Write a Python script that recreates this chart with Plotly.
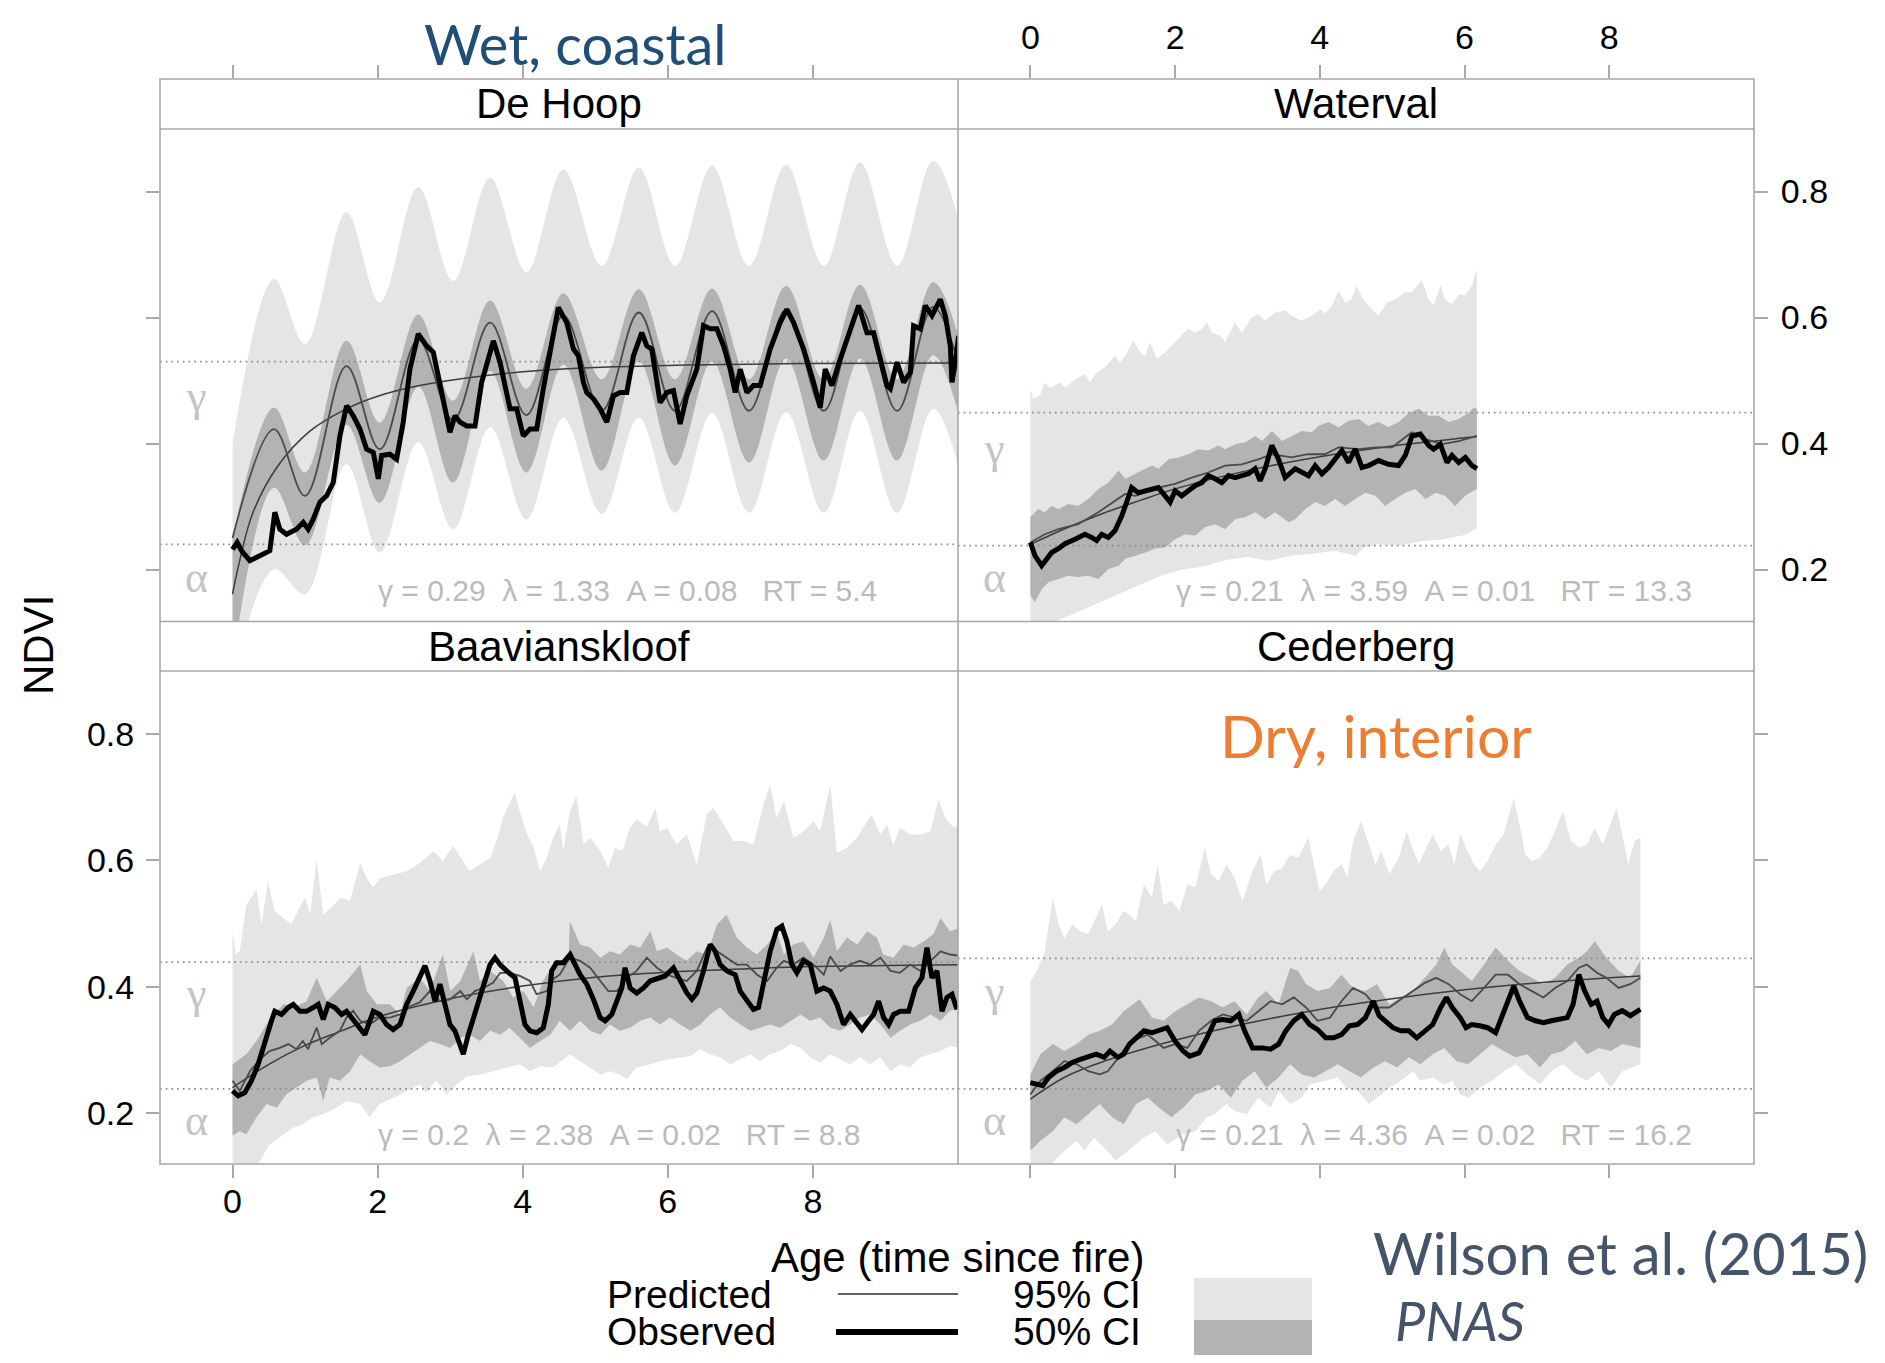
import plotly.graph_objects as go

# ---------------- data ----------------
PANELS = ["De Hoop", "Waterval", "Baavianskloof", "Cederberg"]
X_TICKS = [0, 2, 4, 6, 8]
Y_TICKS = [0.2, 0.4, 0.6, 0.8]
STATS = ["γ = 0.29  λ = 1.33  A = 0.08   RT = 5.4",
         "γ = 0.21  λ = 3.59  A = 0.01   RT = 13.3",
         "γ = 0.2  λ = 2.38  A = 0.02   RT = 8.8",
         "γ = 0.21  λ = 4.36  A = 0.02   RT = 16.2"]
ALPHA_LEVEL = [0.240, 0.238, 0.238, 0.238]
GAMMA_LEVEL = [0.530, 0.449, 0.439, 0.445]
GAMMA_LABEL_Y = [0.474, 0.392, 0.390, 0.392]
ALPHA_LABEL_Y = [0.188, 0.188, 0.188, 0.188]

# De Hoop (seasonal, smooth bands) - peaks / troughs
DH_T = [0.0, 0.57, 1.0, 1.57, 2.03, 2.56, 3.04, 3.55, 4.05, 4.56, 5.09, 5.6, 6.1, 6.61, 7.12, 7.63, 8.15, 8.65, 9.16, 9.66, 10.17]
DH_UP95 = [0.40, 0.661, 0.558, 0.767, 0.624, 0.807, 0.658, 0.822, 0.672, 0.835, 0.682, 0.838, 0.682, 0.841, 0.682, 0.843, 0.682, 0.846, 0.682, 0.849, 0.682]
DH_LO95 = [0.02, 0.20, 0.161, 0.367, 0.227, 0.402, 0.264, 0.426, 0.28, 0.441, 0.288, 0.441, 0.29, 0.449, 0.29, 0.45, 0.29, 0.452, 0.29, 0.455, 0.29]
DH_UP50 = [0.25, 0.457, 0.354, 0.563, 0.433, 0.605, 0.468, 0.627, 0.487, 0.638, 0.502, 0.645, 0.502, 0.646, 0.502, 0.65, 0.502, 0.652, 0.502, 0.656, 0.502]
DH_LO50 = [0.05, 0.33, 0.238, 0.43, 0.306, 0.49, 0.338, 0.515, 0.354, 0.525, 0.357, 0.53, 0.365, 0.53, 0.37, 0.535, 0.373, 0.535, 0.373, 0.54, 0.373]
DH_PRED = [0.25, 0.423, 0.317, 0.523, 0.391, 0.565, 0.437, 0.592, 0.445, 0.603, 0.452, 0.608, 0.452, 0.61, 0.452, 0.612, 0.452, 0.615, 0.452, 0.617, 0.452]
DH_SMOOTH = [(0, 0.161), (0.1, 0.215), (0.28, 0.29), (0.61, 0.362), (1.07, 0.42), (1.57, 0.455), (2.0, 0.475), (2.58, 0.492), (3.5, 0.508), (4.5, 0.518), (6, 0.524), (8, 0.527), (10.2, 0.528)]
DH_OBS = [(0.0, 0.232), (0.064, 0.243), (0.123, 0.230), (0.238, 0.214), (0.376, 0.222), (0.514, 0.230), (0.583, 0.291), (0.652, 0.264), (0.744, 0.256), (0.882, 0.264), (0.974, 0.275), (1.043, 0.264), (1.112, 0.28), (1.204, 0.307), (1.296, 0.317), (1.388, 0.338), (1.48, 0.412), (1.572, 0.46), (1.664, 0.444), (1.756, 0.423), (1.848, 0.391), (1.94, 0.386), (2.009, 0.344), (2.055, 0.381), (2.169, 0.383), (2.261, 0.375), (2.353, 0.434), (2.445, 0.518), (2.56, 0.574), (2.675, 0.555), (2.767, 0.545), (2.859, 0.497), (2.997, 0.418), (3.066, 0.444), (3.135, 0.434), (3.227, 0.428), (3.342, 0.428), (3.434, 0.497), (3.526, 0.539), (3.595, 0.563), (3.687, 0.529), (3.825, 0.455), (3.917, 0.455), (4.008, 0.412), (4.1, 0.423), (4.192, 0.423), (4.284, 0.487), (4.399, 0.561), (4.491, 0.616), (4.607, 0.592), (4.699, 0.55), (4.768, 0.539), (4.837, 0.497), (4.883, 0.481), (4.975, 0.471), (5.067, 0.455), (5.159, 0.434), (5.251, 0.476), (5.343, 0.481), (5.434, 0.481), (5.526, 0.539), (5.641, 0.576), (5.71, 0.555), (5.779, 0.55), (5.894, 0.465), (5.986, 0.481), (6.078, 0.484), (6.17, 0.431), (6.262, 0.476), (6.4, 0.518), (6.492, 0.587), (6.584, 0.582), (6.676, 0.582), (6.768, 0.555), (6.86, 0.518), (6.929, 0.481), (6.998, 0.518), (7.09, 0.481), (7.181, 0.492), (7.273, 0.492), (7.411, 0.55), (7.549, 0.592), (7.641, 0.613), (7.733, 0.592), (7.871, 0.55), (8.009, 0.497), (8.101, 0.457), (8.17, 0.518), (8.262, 0.492), (8.377, 0.534), (8.515, 0.582), (8.63, 0.619), (8.745, 0.576), (8.837, 0.576), (8.929, 0.534), (9.021, 0.492), (9.067, 0.487), (9.159, 0.529), (9.251, 0.497), (9.343, 0.513), (9.388, 0.587), (9.48, 0.582), (9.549, 0.619), (9.641, 0.603), (9.756, 0.629), (9.825, 0.603), (9.894, 0.555), (9.917, 0.497), (9.963, 0.529), (10.009, 0.571)]

# Waterval
W_UP95 = [(0.0, 0.486), (0.04, 0.471), (0.13, 0.476), (0.20, 0.497), (0.27, 0.489), (0.34, 0.492), (0.41, 0.497), (0.48, 0.489), (0.57, 0.497), (0.66, 0.505), (0.76, 0.510), (0.82, 0.497), (0.92, 0.513), (1.03, 0.521), (1.17, 0.539), (1.24, 0.529), (1.31, 0.539), (1.42, 0.563), (1.52, 0.545), (1.59, 0.539), (1.65, 0.561), (1.75, 0.534), (1.86, 0.545), (2.00, 0.561), (2.09, 0.571), (2.18, 0.582), (2.28, 0.576), (2.37, 0.582), (2.44, 0.592), (2.51, 0.576), (2.62, 0.571), (2.69, 0.561), (2.83, 0.592), (2.92, 0.576), (3.06, 0.600), (3.15, 0.606), (3.24, 0.595), (3.38, 0.608), (3.52, 0.611), (3.61, 0.603), (3.75, 0.595), (3.89, 0.603), (4.01, 0.613), (4.07, 0.606), (4.17, 0.619), (4.26, 0.643), (4.35, 0.624), (4.44, 0.629), (4.51, 0.651), (4.58, 0.632), (4.67, 0.619), (4.81, 0.603), (4.93, 0.624), (5.04, 0.629), (5.18, 0.640), (5.27, 0.640), (5.41, 0.659), (5.50, 0.629), (5.57, 0.619), (5.67, 0.651), (5.73, 0.629), (5.83, 0.621), (5.92, 0.637), (6.01, 0.635), (6.10, 0.651), (6.17, 0.677)]
W_LO95 = [(0.0, 0.05), (0.3, 0.115), (0.6, 0.13), (0.9, 0.145), (1.2, 0.16), (1.5, 0.175), (1.8, 0.19), (2.1, 0.20), (2.4, 0.205), (2.7, 0.215), (3.0, 0.22), (3.3, 0.214), (3.6, 0.222), (3.9, 0.225), (4.2, 0.23), (4.5, 0.222), (4.6, 0.234), (4.8, 0.24), (5.1, 0.238), (5.4, 0.245), (5.7, 0.248), (6.0, 0.255), (6.17, 0.265)]
W_UP50 = [(0.0, 0.283), (0.11, 0.296), (0.20, 0.291), (0.29, 0.301), (0.39, 0.296), (0.52, 0.304), (0.66, 0.301), (0.80, 0.312), (0.94, 0.328), (1.08, 0.338), (1.22, 0.357), (1.31, 0.344), (1.45, 0.352), (1.54, 0.357), (1.68, 0.365), (1.77, 0.360), (1.91, 0.375), (2.05, 0.378), (2.18, 0.383), (2.32, 0.391), (2.46, 0.389), (2.60, 0.397), (2.69, 0.391), (2.83, 0.399), (2.97, 0.402), (3.11, 0.412), (3.20, 0.404), (3.34, 0.420), (3.48, 0.404), (3.61, 0.412), (3.75, 0.420), (3.89, 0.418), (3.98, 0.428), (4.12, 0.434), (4.26, 0.426), (4.40, 0.436), (4.54, 0.439), (4.67, 0.428), (4.81, 0.434), (4.95, 0.426), (5.09, 0.434), (5.23, 0.449), (5.37, 0.455), (5.50, 0.444), (5.64, 0.444), (5.78, 0.434), (5.92, 0.439), (6.06, 0.449), (6.13, 0.457), (6.17, 0.455)]
W_LO50 = [(0.0, 0.159), (0.06, 0.148), (0.16, 0.169), (0.25, 0.180), (0.39, 0.185), (0.52, 0.190), (0.66, 0.188), (0.80, 0.190), (0.94, 0.185), (1.08, 0.201), (1.22, 0.206), (1.31, 0.217), (1.45, 0.222), (1.59, 0.227), (1.72, 0.233), (1.86, 0.235), (2.00, 0.248), (2.14, 0.256), (2.28, 0.254), (2.41, 0.267), (2.55, 0.272), (2.69, 0.264), (2.83, 0.280), (2.97, 0.283), (3.11, 0.291), (3.24, 0.280), (3.38, 0.291), (3.57, 0.275), (3.66, 0.280), (3.80, 0.296), (3.94, 0.307), (4.07, 0.301), (4.21, 0.312), (4.35, 0.301), (4.49, 0.312), (4.63, 0.322), (4.77, 0.317), (4.90, 0.301), (5.04, 0.312), (5.18, 0.322), (5.32, 0.328), (5.46, 0.312), (5.60, 0.322), (5.73, 0.317), (5.87, 0.301), (6.01, 0.317), (6.17, 0.328)]
W_PRED = [(0.0, 0.243), (0.20, 0.256), (0.39, 0.264), (0.66, 0.272), (0.94, 0.291), (1.31, 0.320), (1.45, 0.317), (1.77, 0.330), (2.00, 0.336), (2.23, 0.346), (2.46, 0.354), (2.69, 0.365), (2.92, 0.367), (3.15, 0.375), (3.34, 0.383), (3.61, 0.378), (3.84, 0.383), (4.07, 0.383), (4.26, 0.394), (4.54, 0.391), (4.77, 0.394), (5.00, 0.394), (5.27, 0.418), (5.46, 0.407), (5.69, 0.399), (5.92, 0.404), (6.17, 0.412)]
W_SMOOTH = [(0, 0.240), (0.5, 0.266), (1, 0.289), (1.5, 0.309), (2, 0.328), (3, 0.357), (4, 0.379), (5, 0.396), (6, 0.409), (6.17, 0.411)]
W_OBS = [(0.0, 0.243), (0.064, 0.222), (0.156, 0.206), (0.225, 0.217), (0.294, 0.227), (0.386, 0.233), (0.478, 0.241), (0.617, 0.248), (0.755, 0.256), (0.847, 0.251), (0.916, 0.246), (0.986, 0.256), (1.078, 0.251), (1.17, 0.262), (1.262, 0.285), (1.331, 0.307), (1.40, 0.330), (1.493, 0.322), (1.585, 0.325), (1.677, 0.328), (1.769, 0.330), (1.862, 0.317), (1.931, 0.307), (2.0, 0.325), (2.092, 0.317), (2.184, 0.325), (2.277, 0.333), (2.369, 0.338), (2.461, 0.349), (2.553, 0.344), (2.645, 0.338), (2.738, 0.349), (2.83, 0.346), (2.922, 0.349), (3.014, 0.352), (3.106, 0.360), (3.175, 0.341), (3.245, 0.360), (3.337, 0.397), (3.429, 0.375), (3.521, 0.346), (3.66, 0.360), (3.752, 0.354), (3.844, 0.349), (3.936, 0.365), (4.029, 0.352), (4.121, 0.362), (4.213, 0.375), (4.305, 0.389), (4.397, 0.370), (4.489, 0.391), (4.582, 0.362), (4.674, 0.365), (4.812, 0.373), (4.95, 0.367), (5.089, 0.365), (5.181, 0.381), (5.273, 0.412), (5.389, 0.415), (5.504, 0.397), (5.573, 0.391), (5.665, 0.399), (5.757, 0.370), (5.826, 0.381), (5.919, 0.370), (6.011, 0.378), (6.103, 0.365), (6.172, 0.360)]

# Baavianskloof
B_UP95 = [(0.0, 0.488), (0.045, 0.451), (0.10, 0.456), (0.19, 0.530), (0.33, 0.554), (0.40, 0.499), (0.49, 0.567), (0.58, 0.520), (0.70, 0.509), (0.81, 0.499), (0.90, 0.520), (1.0, 0.541), (1.07, 0.514), (1.16, 0.602), (1.25, 0.514), (1.39, 0.530), (1.50, 0.541), (1.62, 0.536), (1.76, 0.596), (1.85, 0.572), (1.94, 0.557), (2.03, 0.572), (2.22, 0.578), (2.40, 0.583), (2.58, 0.596), (2.77, 0.615), (2.90, 0.599), (3.04, 0.623), (3.18, 0.599), (3.27, 0.583), (3.41, 0.594), (3.55, 0.604), (3.64, 0.631), (3.73, 0.668), (3.82, 0.691), (3.89, 0.707), (3.96, 0.678), (4.05, 0.644), (4.15, 0.620), (4.24, 0.583), (4.33, 0.604), (4.42, 0.636), (4.51, 0.657), (4.56, 0.615), (4.65, 0.678), (4.74, 0.702), (4.84, 0.625), (4.93, 0.636), (5.07, 0.615), (5.18, 0.588), (5.27, 0.620), (5.37, 0.615), (5.48, 0.652), (5.57, 0.665), (5.71, 0.654), (5.83, 0.683), (5.89, 0.646), (5.99, 0.652), (6.12, 0.625), (6.26, 0.641), (6.40, 0.594), (6.54, 0.675), (6.63, 0.683), (6.77, 0.657), (6.91, 0.631), (7.04, 0.631), (7.18, 0.625), (7.32, 0.689), (7.41, 0.720), (7.50, 0.667), (7.60, 0.694), (7.73, 0.636), (7.87, 0.646), (8.01, 0.662), (8.10, 0.646), (8.24, 0.720), (8.33, 0.612), (8.47, 0.620), (8.61, 0.636), (8.72, 0.657), (8.81, 0.673), (8.93, 0.641), (9.02, 0.657), (9.11, 0.625), (9.20, 0.652), (9.34, 0.641), (9.48, 0.641), (9.62, 0.646), (9.73, 0.697), (9.83, 0.667), (9.94, 0.652), (10.03, 0.657)]
B_LO95 = [(0.0, 0.05), (0.38, 0.124), (0.51, 0.150), (0.65, 0.161), (0.84, 0.177), (0.97, 0.182), (1.11, 0.193), (1.25, 0.198), (1.43, 0.208), (1.57, 0.219), (1.76, 0.214), (1.89, 0.193), (2.03, 0.214), (2.22, 0.224), (2.40, 0.235), (2.58, 0.245), (2.67, 0.232), (2.81, 0.251), (2.95, 0.229), (3.09, 0.245), (3.23, 0.258), (3.41, 0.261), (3.59, 0.266), (3.78, 0.272), (3.96, 0.277), (4.10, 0.266), (4.24, 0.274), (4.42, 0.272), (4.65, 0.293), (4.79, 0.282), (4.93, 0.272), (5.07, 0.261), (5.20, 0.266), (5.34, 0.261), (5.43, 0.253), (5.57, 0.272), (5.76, 0.277), (5.89, 0.282), (6.03, 0.285), (6.17, 0.288), (6.31, 0.290), (6.45, 0.301), (6.58, 0.293), (6.72, 0.288), (6.86, 0.277), (7.00, 0.285), (7.14, 0.293), (7.27, 0.282), (7.41, 0.293), (7.55, 0.298), (7.69, 0.309), (7.83, 0.303), (7.96, 0.288), (8.10, 0.280), (8.24, 0.293), (8.38, 0.285), (8.51, 0.277), (8.65, 0.288), (8.79, 0.277), (8.93, 0.288), (9.07, 0.266), (9.20, 0.277), (9.34, 0.272), (9.48, 0.288), (9.62, 0.293), (9.76, 0.298), (9.89, 0.306), (10.03, 0.303)]
B_UP50 = [(0.0, 0.277), (0.19, 0.293), (0.33, 0.314), (0.51, 0.348), (0.70, 0.372), (0.88, 0.369), (1.02, 0.377), (1.16, 0.414), (1.30, 0.377), (1.43, 0.393), (1.57, 0.409), (1.76, 0.435), (1.85, 0.393), (1.99, 0.372), (2.17, 0.372), (2.31, 0.356), (2.40, 0.398), (2.58, 0.414), (2.72, 0.393), (2.90, 0.451), (3.0, 0.393), (3.14, 0.409), (3.32, 0.456), (3.41, 0.409), (3.55, 0.425), (3.73, 0.409), (3.87, 0.383), (4.01, 0.393), (4.15, 0.367), (4.28, 0.409), (4.42, 0.435), (4.63, 0.441), (4.65, 0.504), (4.79, 0.467), (4.93, 0.462), (5.07, 0.446), (5.20, 0.456), (5.34, 0.451), (5.48, 0.467), (5.62, 0.462), (5.76, 0.488), (5.85, 0.456), (5.99, 0.462), (6.12, 0.451), (6.26, 0.441), (6.40, 0.456), (6.54, 0.451), (6.68, 0.499), (6.81, 0.514), (6.95, 0.478), (7.09, 0.462), (7.23, 0.451), (7.37, 0.467), (7.50, 0.488), (7.60, 0.451), (7.73, 0.467), (7.87, 0.472), (8.01, 0.446), (8.15, 0.478), (8.24, 0.506), (8.33, 0.456), (8.47, 0.478), (8.61, 0.467), (8.75, 0.488), (8.88, 0.478), (8.97, 0.451), (9.11, 0.446), (9.25, 0.467), (9.39, 0.462), (9.53, 0.472), (9.66, 0.483), (9.76, 0.509), (9.89, 0.488), (10.03, 0.493)]
B_LO50 = [(0.0, 0.164), (0.10, 0.171), (0.19, 0.166), (0.33, 0.193), (0.47, 0.214), (0.61, 0.208), (0.74, 0.229), (0.88, 0.240), (1.02, 0.251), (1.16, 0.256), (1.25, 0.219), (1.34, 0.256), (1.48, 0.251), (1.62, 0.266), (1.76, 0.293), (1.89, 0.282), (2.03, 0.272), (2.17, 0.274), (2.31, 0.282), (2.45, 0.293), (2.58, 0.303), (2.72, 0.314), (2.86, 0.309), (3.0, 0.303), (3.14, 0.319), (3.27, 0.324), (3.41, 0.314), (3.55, 0.330), (3.69, 0.324), (3.82, 0.335), (3.96, 0.319), (4.10, 0.303), (4.24, 0.314), (4.38, 0.324), (4.51, 0.346), (4.65, 0.330), (4.79, 0.346), (4.93, 0.330), (5.07, 0.324), (5.20, 0.340), (5.34, 0.330), (5.48, 0.335), (5.62, 0.346), (5.76, 0.351), (5.89, 0.340), (6.03, 0.351), (6.17, 0.340), (6.31, 0.330), (6.45, 0.340), (6.58, 0.356), (6.72, 0.367), (6.86, 0.351), (7.00, 0.340), (7.14, 0.330), (7.27, 0.335), (7.41, 0.340), (7.55, 0.335), (7.69, 0.346), (7.83, 0.356), (7.96, 0.346), (8.10, 0.351), (8.24, 0.335), (8.38, 0.330), (8.51, 0.340), (8.65, 0.351), (8.79, 0.356), (8.93, 0.340), (9.07, 0.319), (9.20, 0.330), (9.34, 0.340), (9.48, 0.346), (9.62, 0.356), (9.76, 0.346), (9.89, 0.362), (10.03, 0.367)]
B_PRED = [(0.0, 0.251), (0.10, 0.235), (0.24, 0.266), (0.38, 0.285), (0.51, 0.298), (0.65, 0.303), (0.77, 0.309), (0.88, 0.301), (0.97, 0.314), (1.04, 0.301), (1.16, 0.335), (1.23, 0.309), (1.34, 0.319), (1.48, 0.330), (1.57, 0.351), (1.66, 0.362), (1.76, 0.346), (1.89, 0.340), (2.03, 0.351), (2.17, 0.351), (2.31, 0.356), (2.45, 0.369), (2.58, 0.375), (2.72, 0.393), (2.86, 0.377), (3.0, 0.380), (3.14, 0.393), (3.23, 0.380), (3.34, 0.393), (3.46, 0.398), (3.59, 0.406), (3.69, 0.422), (3.82, 0.422), (3.96, 0.417), (4.10, 0.409), (4.19, 0.388), (4.33, 0.393), (4.42, 0.412), (4.51, 0.419), (4.65, 0.446), (4.79, 0.441), (4.93, 0.430), (5.07, 0.409), (5.18, 0.393), (5.30, 0.393), (5.43, 0.414), (5.57, 0.425), (5.71, 0.446), (5.85, 0.430), (5.99, 0.419), (6.12, 0.414), (6.26, 0.409), (6.40, 0.425), (6.54, 0.462), (6.68, 0.456), (6.81, 0.446), (6.95, 0.435), (7.09, 0.435), (7.23, 0.419), (7.37, 0.409), (7.50, 0.430), (7.60, 0.441), (7.73, 0.435), (7.87, 0.446), (8.01, 0.435), (8.15, 0.419), (8.24, 0.448), (8.38, 0.425), (8.51, 0.435), (8.65, 0.441), (8.79, 0.435), (8.93, 0.446), (9.07, 0.425), (9.20, 0.422), (9.34, 0.435), (9.48, 0.425), (9.62, 0.441), (9.76, 0.456), (9.89, 0.451), (10.03, 0.449)]
B_SMOOTH = [(0, 0.240), (0.5, 0.277), (1, 0.307), (1.5, 0.330), (2, 0.352), (3, 0.381), (4, 0.401), (5, 0.415), (6, 0.423), (7, 0.428), (8, 0.432), (10.1, 0.435)]
B_OBS = [(0.0, 0.235), (0.078, 0.227), (0.169, 0.232), (0.261, 0.251), (0.353, 0.277), (0.445, 0.314), (0.537, 0.346), (0.583, 0.361), (0.675, 0.356), (0.767, 0.367), (0.836, 0.372), (0.928, 0.361), (1.02, 0.361), (1.112, 0.367), (1.181, 0.372), (1.25, 0.348), (1.319, 0.372), (1.411, 0.367), (1.503, 0.356), (1.572, 0.361), (1.641, 0.351), (1.756, 0.335), (1.825, 0.324), (1.94, 0.361), (2.031, 0.356), (2.123, 0.340), (2.215, 0.332), (2.307, 0.340), (2.399, 0.372), (2.491, 0.393), (2.583, 0.414), (2.652, 0.433), (2.721, 0.409), (2.79, 0.377), (2.859, 0.404), (2.928, 0.372), (2.997, 0.340), (3.066, 0.330), (3.135, 0.309), (3.181, 0.293), (3.25, 0.324), (3.319, 0.351), (3.411, 0.383), (3.48, 0.414), (3.549, 0.435), (3.618, 0.446), (3.687, 0.435), (3.779, 0.425), (3.894, 0.414), (3.963, 0.377), (4.031, 0.340), (4.10, 0.330), (4.192, 0.327), (4.284, 0.335), (4.353, 0.372), (4.399, 0.425), (4.468, 0.438), (4.56, 0.438), (4.653, 0.451), (4.722, 0.435), (4.791, 0.419), (4.883, 0.404), (4.975, 0.380), (5.067, 0.351), (5.136, 0.346), (5.228, 0.356), (5.297, 0.377), (5.366, 0.398), (5.411, 0.430), (5.48, 0.398), (5.572, 0.390), (5.664, 0.398), (5.756, 0.409), (5.848, 0.412), (5.963, 0.417), (6.078, 0.430), (6.17, 0.409), (6.262, 0.390), (6.331, 0.380), (6.40, 0.390), (6.492, 0.425), (6.584, 0.467), (6.653, 0.456), (6.722, 0.435), (6.814, 0.425), (6.929, 0.419), (6.998, 0.393), (7.09, 0.377), (7.181, 0.364), (7.25, 0.367), (7.32, 0.409), (7.411, 0.456), (7.503, 0.491), (7.572, 0.496), (7.641, 0.472), (7.71, 0.435), (7.779, 0.422), (7.871, 0.441), (7.963, 0.435), (8.055, 0.393), (8.147, 0.398), (8.239, 0.393), (8.331, 0.372), (8.423, 0.340), (8.515, 0.356), (8.584, 0.346), (8.676, 0.332), (8.768, 0.346), (8.837, 0.356), (8.906, 0.377), (8.975, 0.351), (9.044, 0.340), (9.113, 0.356), (9.205, 0.361), (9.32, 0.361), (9.411, 0.398), (9.503, 0.414), (9.572, 0.462), (9.641, 0.414), (9.71, 0.425), (9.779, 0.361), (9.848, 0.383), (9.917, 0.388), (9.986, 0.364)]

# Cederberg
C_UP95 = [(0.0, 0.409), (0.09, 0.425), (0.20, 0.456), (0.31, 0.541), (0.39, 0.499), (0.47, 0.477), (0.58, 0.499), (0.69, 0.488), (0.80, 0.483), (0.91, 0.509), (0.99, 0.530), (1.07, 0.488), (1.18, 0.499), (1.29, 0.520), (1.37, 0.514), (1.46, 0.504), (1.57, 0.562), (1.68, 0.541), (1.76, 0.594), (1.84, 0.530), (1.95, 0.536), (2.06, 0.520), (2.17, 0.562), (2.28, 0.557), (2.41, 0.620), (2.50, 0.578), (2.60, 0.567), (2.71, 0.594), (2.82, 0.573), (2.93, 0.536), (3.07, 0.583), (3.18, 0.609), (3.26, 0.562), (3.37, 0.583), (3.48, 0.588), (3.59, 0.609), (3.70, 0.604), (3.84, 0.636), (3.92, 0.594), (4.00, 0.551), (4.08, 0.562), (4.19, 0.583), (4.30, 0.594), (4.38, 0.573), (4.46, 0.631), (4.57, 0.662), (4.68, 0.625), (4.77, 0.594), (4.85, 0.615), (4.96, 0.578), (5.09, 0.604), (5.20, 0.646), (5.28, 0.620), (5.37, 0.594), (5.45, 0.615), (5.56, 0.641), (5.67, 0.615), (5.78, 0.625), (5.86, 0.594), (5.94, 0.641), (6.02, 0.620), (6.13, 0.594), (6.21, 0.583), (6.32, 0.599), (6.43, 0.625), (6.54, 0.641), (6.68, 0.699), (6.76, 0.657), (6.84, 0.609), (6.93, 0.599), (7.04, 0.604), (7.14, 0.620), (7.25, 0.646), (7.36, 0.678), (7.47, 0.631), (7.58, 0.620), (7.69, 0.625), (7.80, 0.652), (7.91, 0.625), (8.02, 0.657), (8.10, 0.683), (8.18, 0.641), (8.26, 0.594), (8.35, 0.631), (8.43, 0.636)]
C_LO95 = [(0.0, 0.06), (0.31, 0.121), (0.47, 0.140), (0.64, 0.156), (0.75, 0.140), (0.88, 0.161), (1.02, 0.145), (1.18, 0.124), (1.35, 0.140), (1.57, 0.161), (1.73, 0.171), (1.89, 0.150), (2.11, 0.166), (2.28, 0.171), (2.44, 0.193), (2.55, 0.198), (2.71, 0.214), (2.82, 0.203), (2.99, 0.198), (3.15, 0.224), (3.32, 0.208), (3.43, 0.235), (3.59, 0.214), (3.75, 0.224), (3.86, 0.245), (4.08, 0.251), (4.25, 0.256), (4.36, 0.240), (4.52, 0.235), (4.68, 0.214), (4.85, 0.229), (4.96, 0.240), (5.12, 0.251), (5.29, 0.266), (5.39, 0.251), (5.56, 0.256), (5.72, 0.245), (5.83, 0.251), (5.94, 0.229), (6.05, 0.224), (6.21, 0.240), (6.38, 0.251), (6.54, 0.266), (6.71, 0.277), (6.87, 0.261), (7.04, 0.245), (7.20, 0.266), (7.36, 0.277), (7.53, 0.261), (7.69, 0.251), (7.855, 0.266), (8.02, 0.240), (8.18, 0.266), (8.43, 0.277)]
C_UP50 = [(0.0, 0.261), (0.14, 0.293), (0.31, 0.309), (0.47, 0.298), (0.64, 0.309), (0.80, 0.324), (0.96, 0.330), (1.13, 0.340), (1.29, 0.361), (1.51, 0.380), (1.68, 0.351), (1.84, 0.346), (2.00, 0.361), (2.17, 0.372), (2.33, 0.383), (2.50, 0.377), (2.66, 0.367), (2.82, 0.377), (2.99, 0.356), (3.15, 0.383), (3.26, 0.393), (3.43, 0.372), (3.59, 0.430), (3.70, 0.425), (3.81, 0.404), (3.97, 0.393), (4.14, 0.398), (4.30, 0.419), (4.46, 0.398), (4.63, 0.393), (4.79, 0.404), (4.96, 0.372), (5.12, 0.383), (5.29, 0.393), (5.45, 0.414), (5.61, 0.435), (5.72, 0.462), (5.83, 0.435), (5.94, 0.425), (6.10, 0.409), (6.27, 0.435), (6.43, 0.462), (6.60, 0.441), (6.76, 0.425), (6.93, 0.414), (7.09, 0.404), (7.25, 0.414), (7.42, 0.435), (7.58, 0.446), (7.69, 0.456), (7.80, 0.472), (7.96, 0.446), (8.13, 0.425), (8.29, 0.414), (8.43, 0.441)]
C_LO50 = [(0.0, 0.140), (0.14, 0.156), (0.31, 0.171), (0.47, 0.193), (0.64, 0.182), (0.80, 0.198), (0.96, 0.214), (1.13, 0.193), (1.29, 0.182), (1.46, 0.214), (1.62, 0.224), (1.78, 0.208), (1.95, 0.193), (2.11, 0.208), (2.28, 0.229), (2.44, 0.235), (2.60, 0.245), (2.77, 0.224), (2.93, 0.251), (3.10, 0.266), (3.26, 0.240), (3.43, 0.256), (3.59, 0.277), (3.75, 0.261), (3.92, 0.256), (4.08, 0.266), (4.25, 0.277), (4.41, 0.266), (4.57, 0.256), (4.74, 0.272), (4.90, 0.282), (5.07, 0.272), (5.23, 0.288), (5.39, 0.277), (5.56, 0.293), (5.72, 0.303), (5.89, 0.282), (6.05, 0.277), (6.21, 0.293), (6.38, 0.309), (6.54, 0.298), (6.71, 0.288), (6.87, 0.293), (7.04, 0.272), (7.20, 0.293), (7.36, 0.298), (7.53, 0.314), (7.69, 0.293), (7.855, 0.303), (8.02, 0.298), (8.18, 0.309), (8.43, 0.303)]
C_PRED = [(0.0, 0.229), (0.14, 0.251), (0.31, 0.266), (0.47, 0.282), (0.64, 0.277), (0.80, 0.266), (0.96, 0.261), (1.07, 0.266), (1.18, 0.282), (1.35, 0.309), (1.51, 0.319), (1.62, 0.324), (1.73, 0.314), (1.84, 0.303), (2.00, 0.309), (2.17, 0.303), (2.33, 0.330), (2.50, 0.346), (2.66, 0.356), (2.82, 0.351), (2.99, 0.346), (3.15, 0.361), (3.32, 0.377), (3.48, 0.372), (3.64, 0.383), (3.81, 0.367), (3.97, 0.346), (4.14, 0.351), (4.30, 0.377), (4.46, 0.398), (4.63, 0.388), (4.79, 0.367), (4.96, 0.367), (5.12, 0.380), (5.29, 0.393), (5.45, 0.406), (5.61, 0.414), (5.78, 0.404), (5.94, 0.388), (6.10, 0.377), (6.27, 0.398), (6.43, 0.419), (6.60, 0.419), (6.76, 0.404), (6.93, 0.393), (7.09, 0.383), (7.25, 0.398), (7.42, 0.409), (7.58, 0.430), (7.69, 0.435), (7.83, 0.422), (7.96, 0.414), (8.13, 0.398), (8.29, 0.404), (8.43, 0.414)]
C_SMOOTH = [(0, 0.222), (0.5, 0.258), (1, 0.281), (2, 0.315), (3, 0.342), (4, 0.364), (5, 0.381), (6, 0.395), (7, 0.406), (8, 0.414), (8.43, 0.417)]
C_OBS = [(0.0, 0.248), (0.09, 0.245), (0.17, 0.243), (0.25, 0.256), (0.36, 0.266), (0.47, 0.272), (0.58, 0.280), (0.69, 0.285), (0.80, 0.288), (0.91, 0.293), (1.02, 0.288), (1.10, 0.298), (1.21, 0.288), (1.29, 0.293), (1.37, 0.309), (1.46, 0.319), (1.57, 0.330), (1.68, 0.327), (1.78, 0.330), (1.89, 0.335), (2.00, 0.314), (2.11, 0.298), (2.20, 0.290), (2.33, 0.295), (2.44, 0.319), (2.55, 0.346), (2.66, 0.348), (2.77, 0.346), (2.88, 0.356), (2.96, 0.330), (3.07, 0.303), (3.21, 0.303), (3.32, 0.301), (3.43, 0.309), (3.53, 0.330), (3.64, 0.346), (3.75, 0.356), (3.86, 0.340), (3.97, 0.332), (4.08, 0.319), (4.19, 0.319), (4.30, 0.324), (4.41, 0.338), (4.52, 0.340), (4.63, 0.351), (4.74, 0.377), (4.82, 0.354), (4.90, 0.346), (5.01, 0.335), (5.12, 0.330), (5.23, 0.330), (5.34, 0.319), (5.45, 0.330), (5.56, 0.340), (5.67, 0.367), (5.75, 0.383), (5.83, 0.367), (5.94, 0.351), (6.02, 0.335), (6.10, 0.340), (6.21, 0.338), (6.32, 0.335), (6.43, 0.327), (6.49, 0.346), (6.60, 0.377), (6.68, 0.401), (6.76, 0.377), (6.87, 0.351), (6.98, 0.346), (7.09, 0.343), (7.20, 0.346), (7.31, 0.348), (7.42, 0.351), (7.50, 0.372), (7.58, 0.419), (7.66, 0.393), (7.75, 0.372), (7.83, 0.377), (7.91, 0.351), (7.99, 0.340), (8.07, 0.356), (8.18, 0.362), (8.29, 0.354), (8.43, 0.364)]

# ---------------- styling / layout ----------------
PAGE_OFF = 8                      # default page margin around the plot div
W, H = 1885 - 2 * PAGE_OFF, 1363 - 2 * PAGE_OFF
LIGHT = "#E5E5E5"
DARK = "#B3B3B3"
FRAME = "#A8A8A8"
SANS = "Liberation Sans, Arial, sans-serif"
CAL = "Lato, Open Sans, sans-serif"

def px(x):
    return (x - PAGE_OFF) / W

def py(y):
    return 1 - (y - PAGE_OFF) / H

LEFT, MID, RIGHT = 160, 958, 1754
TOP, STRIP1, ROWDIV, STRIP2, BOTTOM = 79, 129, 621.5, 671, 1164

def unzip(pairs):
    return [p[0] for p in pairs], [p[1] for p in pairs]

fig = go.Figure()

def add_panel(k, up95, lo95, up50, lo50, pred, smooth, obs, shape):
    xa = "x" if k == 1 else "x%d" % k
    ya = "y" if k == 1 else "y%d" % k
    common = dict(xaxis=xa, yaxis=ya, mode="lines", hoverinfo="skip", showlegend=False)
    x, y = unzip(lo95)
    fig.add_trace(go.Scatter(x=x, y=y, line=dict(width=0, shape=shape), **common))
    x, y = unzip(up95)
    fig.add_trace(go.Scatter(x=x, y=y, line=dict(width=0, shape=shape), fill="tonexty", fillcolor=LIGHT, **common))
    x, y = unzip(lo50)
    fig.add_trace(go.Scatter(x=x, y=y, line=dict(width=0, shape=shape), **common))
    x, y = unzip(up50)
    fig.add_trace(go.Scatter(x=x, y=y, line=dict(width=0, shape=shape), fill="tonexty", fillcolor=DARK, **common))
    for lev in (ALPHA_LEVEL[k - 1], GAMMA_LEVEL[k - 1]):
        fig.add_trace(go.Scatter(x=[-1, 10], y=[lev, lev], line=dict(color="#8E8E8E", width=1.7, dash="1.7px,4px"), **common))
    x, y = unzip(smooth)
    fig.add_trace(go.Scatter(x=x, y=y, line=dict(color="#3C3C3C", width=1.5, shape="spline"), **common))
    x, y = unzip(pred)
    fig.add_trace(go.Scatter(x=x, y=y, line=dict(color="#4A4A4A", width=1.8, shape=shape), **common))
    x, y = unzip(obs)
    fig.add_trace(go.Scatter(x=x, y=y, line=dict(color="black", width=5), **common))

add_panel(1, list(zip(DH_T, DH_UP95)), list(zip(DH_T, DH_LO95)), list(zip(DH_T, DH_UP50)),
          list(zip(DH_T, DH_LO50)), list(zip(DH_T, DH_PRED)), DH_SMOOTH, DH_OBS, "spline")
add_panel(2, W_UP95, W_LO95, W_UP50, W_LO50, W_PRED, W_SMOOTH, W_OBS, "linear")
add_panel(3, B_UP95, B_LO95, B_UP50, B_LO50, B_PRED, B_SMOOTH, B_OBS, "linear")
add_panel(4, C_UP95, C_LO95, C_UP50, C_LO50, C_PRED, C_SMOOTH, C_OBS, "linear")

# axes
TOP_RANGE = [0.1175, 0.1175 + (ROWDIV - TOP) / 630.0]
BOT_RANGE = [0.119, 0.9003]
tickcommon = dict(ticks="outside", ticklen=13, tickwidth=1.5, tickcolor=FRAME, showgrid=False,
                  zeroline=False, showline=False, tickfont=dict(family=SANS, size=34, color="black"),
                  fixedrange=True)
xl = [px(LEFT), px(MID)]
xr = [px(MID), px(RIGHT)]
yt = [py(ROWDIV), py(TOP)]
yb = [py(BOTTOM), py(STRIP2)]

fig.update_layout(
    xaxis=dict(domain=xl, range=[-1, 10], side="top", anchor="y", tickvals=X_TICKS, showticklabels=False, **tickcommon),
    yaxis=dict(domain=yt, range=TOP_RANGE, side="left", anchor="x", tickvals=Y_TICKS, showticklabels=False, **tickcommon),
    xaxis2=dict(domain=xr, range=[-1, 10], side="top", anchor="y2", tickvals=X_TICKS, showticklabels=True,
                ticklabelstandoff=2, **tickcommon),
    yaxis2=dict(domain=yt, range=TOP_RANGE, side="right", anchor="x2", tickvals=Y_TICKS, showticklabels=True,
                ticklabelstandoff=6, tickformat=".1f", **tickcommon),
    xaxis3=dict(domain=xl, range=[-1, 10], side="bottom", anchor="y3", tickvals=X_TICKS, showticklabels=True,
                ticklabelstandoff=-6, **tickcommon),
    yaxis3=dict(domain=yb, range=BOT_RANGE, side="left", anchor="x3", tickvals=Y_TICKS, showticklabels=True,
                ticklabelstandoff=5, tickformat=".1f", **tickcommon),
    xaxis4=dict(domain=xr, range=[-1, 10], side="bottom", anchor="y4", tickvals=X_TICKS, showticklabels=False, **tickcommon),
    yaxis4=dict(domain=yb, range=BOT_RANGE, side="right", anchor="x4", tickvals=Y_TICKS, showticklabels=False, **tickcommon),
)

# frame lines
shapes = []
lc = dict(color=FRAME, width=1.6)
shapes.append(dict(type="rect", xref="paper", yref="paper", x0=px(LEFT), x1=px(RIGHT), y0=py(BOTTOM), y1=py(TOP), line=lc, layer="above"))
shapes.append(dict(type="line", xref="paper", yref="paper", x0=px(MID), x1=px(MID), y0=py(BOTTOM), y1=py(TOP), line=lc, layer="above"))
for yy in (STRIP1, ROWDIV, STRIP2):
    shapes.append(dict(type="line", xref="paper", yref="paper", x0=px(LEFT), x1=px(RIGHT), y0=py(yy), y1=py(yy), line=lc, layer="above"))
# legend keys
shapes.append(dict(type="line", xref="paper", yref="paper", x0=px(838), x1=px(958), y0=py(1294), y1=py(1294), line=dict(color="#606060", width=2)))
shapes.append(dict(type="line", xref="paper", yref="paper", x0=px(836), x1=px(958), y0=py(1332), y1=py(1332), line=dict(color="black", width=6)))
shapes.append(dict(type="rect", xref="paper", yref="paper", x0=px(1194), x1=px(1312), y0=py(1320), y1=py(1278), fillcolor=LIGHT, line=dict(width=0)))
shapes.append(dict(type="rect", xref="paper", yref="paper", x0=px(1194), x1=px(1312), y0=py(1363), y1=py(1320), fillcolor=DARK, line=dict(width=0)))

ann = []
def note(text, x, y, size, color="black", family=SANS, xanchor="center", yanchor="middle", xref="paper", yref="paper", angle=0):
    ann.append(dict(text=text, x=x, y=y, xref=xref, yref=yref, showarrow=False, xanchor=xanchor, yanchor=yanchor,
                    textangle=angle, font=dict(family=family, size=size, color=color)))

strip_pos = [((LEFT + MID) / 2, (TOP + STRIP1) / 2), ((MID + RIGHT) / 2, (TOP + STRIP1) / 2),
             ((LEFT + MID) / 2, (ROWDIV + STRIP2) / 2), ((MID + RIGHT) / 2, (ROWDIV + STRIP2) / 2)]
for name, (sx, sy) in zip(PANELS, strip_pos):
    note(name, px(sx), py(sy), 42)

for k in range(4):
    xr_ = "x" if k == 0 else "x%d" % (k + 1)
    yr_ = "y" if k == 0 else "y%d" % (k + 1)
    note(STATS[k].replace("  ", "\u00a0\u00a0"), 1.98, 0.166, 30, color="#BBBBBB", family=SANS,
         xanchor="left", xref=xr_, yref=yr_)
    note("γ", -0.5, GAMMA_LABEL_Y[k], 44, color="#C4C4C4", family="Liberation Serif, serif", xref=xr_, yref=yr_)
    note("α", -0.5, ALPHA_LABEL_Y[k], 44, color="#C4C4C4", family="Liberation Serif, serif", xref=xr_, yref=yr_)

note("NDVI", px(38), py(645), 42, angle=-90)
note("Age (time since fire)", px(957), py(1257), 42)
note("Predicted", px(605), py(1294), 39, xanchor="left")
note("Observed", px(605), py(1355), 39, xanchor="left", yanchor="bottom")
note("95% CI", px(1143), py(1294), 39, xanchor="right")
note("50% CI", px(1143), py(1355), 39, xanchor="right", yanchor="bottom")
note("Wet, coastal", px(575), py(8), 56, color="#1F4E79", family=CAL, yanchor="top")
note("Dry, interior", px(1376), py(735), 59, color="#ED7D31", family=CAL)
note("Wilson et al. (2015)", px(1620), py(1252), 58, color="#44546A", family=CAL)
note("<i>PNAS</i>", px(1460), py(1355), 54, color="#44546A", family=CAL, yanchor="bottom")

fig.update_layout(width=W, height=H, margin=dict(l=0, r=0, t=0, b=0), paper_bgcolor="white",
                  plot_bgcolor="white", showlegend=False, shapes=shapes, annotations=ann)

fig.write_html("out.html")
